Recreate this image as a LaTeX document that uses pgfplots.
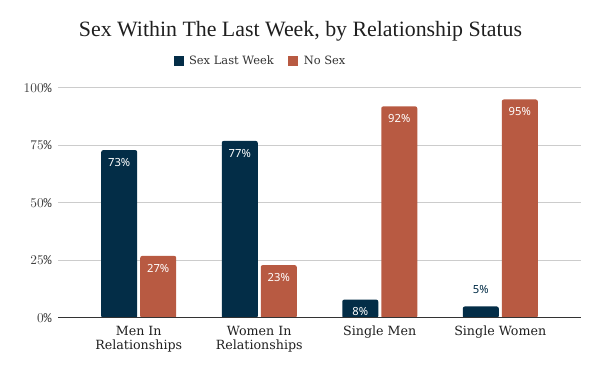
\documentclass[border=0pt]{standalone}
\usepackage{fontspec}
\usepackage{pgfplots}
\pgfplotsset{compat=1.18}
\setmainfont{DejaVu Serif}
\newfontfamily\titlefont{Liberation Serif}
\newfontfamily\labfont{Noto Sans}
\newfontfamily\tickfont{Liberation Mono}
\definecolor{navy}{HTML}{032D47}
\definecolor{rust}{HTML}{B85A42}
\begin{document}
\begin{tikzpicture}[x=0.75pt,y=0.75pt]
\path[use as bounding box] (0,0) rectangle (600,371);
\node[font=\titlefont\fontsize{16.4}{18}\selectfont, text=black!88] at (300.5,340) {Sex Within The Last Week, by Relationship Status};
\begin{axis}[
  at={(43.5pt,39.75pt)}, anchor=south west,
  scale only axis, width=392.25pt, height=172.5pt,
  xmin=-0.67, xmax=3.67, ymin=0, ymax=100,
  ybar, bar width=27pt,
  axis line style={draw=none}, major tick length=0pt,
  ymajorgrids, grid style={line width=0.75pt, color=black!20},
  ytick={0,25,50,75,100},
  yticklabel={\pgfmathprintnumber{\tick}\%},
  yticklabel style={font=\tickfont\fontsize{10}{11}\selectfont, text=black!75, inner sep=0pt, xshift=-4.5pt},
  xtick={0,1,2,3},
  xticklabels={{Men In\\Relationships},{Women In\\Relationships},{Single Men},{Single Women}},
  xticklabel style={align=center, font=\fontsize{9.5}{10.5}\selectfont, text=black!88, inner sep=0pt, yshift=-6pt},
  legend columns=2,
  legend style={draw=none, at={(0.388,1)}, anchor=center, yshift=20.25pt,
    font=\fontsize{8.6}{10}\selectfont, text=black!80,
    /tikz/every odd column/.append style={column sep=2pt},
    /tikz/every even column/.append style={column sep=9pt}},
  legend image code/.code={\fill[#1, sharp corners] (0pt,-3.75pt) rectangle (7.5pt,3.75pt);},
  point meta=explicit symbolic,
  nodes near coords,
  nodes near coords style={anchor=north, text=white, font=\labfont\fontsize{8.4}{10}\selectfont, yshift=-2.5pt},
]
\addplot[fill=navy, draw=none, bar shift=-14.625pt, rounded corners=1.5pt]
  coordinates {(0,73) [73\%] (1,77) [77\%] (2,8) [8\%] (3,5) [{}]};
\addlegendentry{Sex Last Week}
\addplot[fill=rust, draw=none, bar shift=14.625pt, rounded corners=1.5pt]
  coordinates {(0,27) [27\%] (1,23) [23\%] (2,92) [92\%] (3,95) [95\%]};
\addlegendentry{No Sex}
\addplot[draw=none, fill=none, bar shift=-14.625pt, forget plot,
  nodes near coords style={anchor=south, text=navy, yshift=9pt}]
  coordinates {(3,5) [5\%]};
\draw[black!80, line width=0.75pt] (rel axis cs:0,0) -- (rel axis cs:1,0);
\end{axis}
\end{tikzpicture}
\end{document}
